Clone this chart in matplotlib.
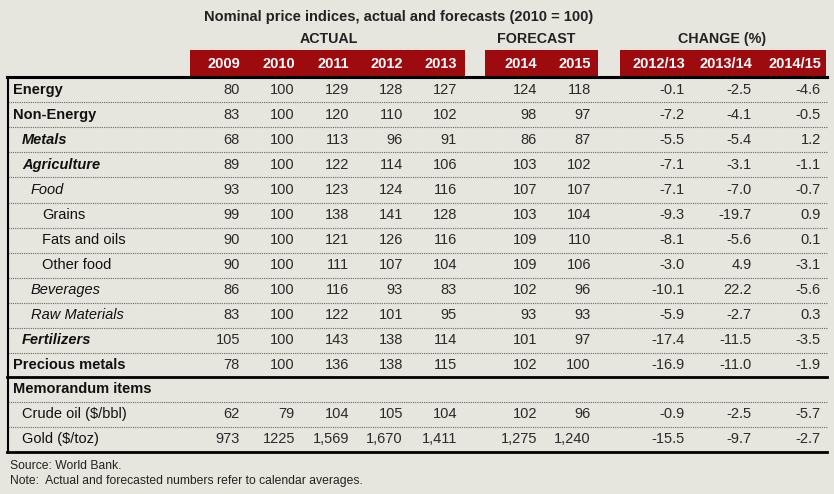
import matplotlib
matplotlib.use("Agg")
import matplotlib.pyplot as plt

plt.rcParams['font.family'] = ['Liberation Sans', 'DejaVu Sans']

# table data
title = "Nominal price indices, actual and forecasts (2010 = 100)"
groups = ["ACTUAL", "FORECAST", "CHANGE (%)"]
columns = ["2009", "2010", "2011", "2012", "2013", "2014", "2015",
           "2012/13", "2013/14", "2014/15"]

labels = ["Energy", "Non-Energy", "Metals", "Agriculture", "Food", "Grains",
          "Fats and oils", "Other food", "Beverages", "Raw Materials",
          "Fertilizers", "Precious metals", "Memorandum items",
          "Crude oil ($/bbl)", "Gold ($/toz)"]

y2009 = ["80", "83", "68", "89", "93", "99", "90", "90", "86", "83", "105", "78", "", "62", "973"]
y2010 = ["100", "100", "100", "100", "100", "100", "100", "100", "100", "100", "100", "100", "", "79", "1225"]
y2011 = ["129", "120", "113", "122", "123", "138", "121", "111", "116", "122", "143", "136", "", "104", "1,569"]
y2012 = ["128", "110", "96", "114", "124", "141", "126", "107", "93", "101", "138", "138", "", "105", "1,670"]
y2013 = ["127", "102", "91", "106", "116", "128", "116", "104", "83", "95", "114", "115", "", "104", "1,411"]
y2014 = ["124", "98", "86", "103", "107", "103", "109", "109", "102", "93", "101", "102", "", "102", "1,275"]
y2015 = ["118", "97", "87", "102", "107", "104", "110", "106", "96", "93", "97", "100", "", "96", "1,240"]
ch1213 = ["-0.1", "-7.2", "-5.5", "-7.1", "-7.1", "-9.3", "-8.1", "-3.0", "-10.1", "-5.9", "-17.4", "-16.9", "", "-0.9", "-15.5"]
ch1314 = ["-2.5", "-4.1", "-5.4", "-3.1", "-7.0", "-19.7", "-5.6", "4.9", "22.2", "-2.7", "-11.5", "-11.0", "", "-2.5", "-9.7"]
ch1415 = ["-4.6", "-0.5", "1.2", "-1.1", "-0.7", "0.9", "0.1", "-3.1", "-5.6", "0.3", "-3.5", "-1.9", "", "-5.7", "-2.7"]

source = "Source: World Bank."
note = "Note:  Actual and forecasted numbers refer to calendar averages."

# layout (pixels)
label_x = [13, 13, 22, 22, 31, 42, 42, 42, 31, 31, 22, 13, 13, 22, 22]
label_style = ["b", "b", "bi", "bi", "i", "n", "n", "n", "i", "i", "bi", "b", "b", "n", "n"]
col_right = [240, 295, 349, 403, 457, 537, 591, 685, 752, 821]
bands = [(190, 465), (485, 598), (620, 826)]
group_x = [329, 536, 722]

bg = "#e6e6df"
red = "#9e0b0f"
fs = 10.5

fig = plt.figure(figsize=(8.34, 4.94), dpi=100, facecolor=bg)
ax = fig.add_axes([0, 0, 1, 1])
ax.set_xlim(0, 834)
ax.set_ylim(494, 0)
ax.axis("off")
ax.set_facecolor(bg)

ax.text(399, 17, title, ha="center", va="center", fontsize=10.5,
        fontweight="bold", color="#222222")
for gx, g in zip(group_x, groups):
    ax.text(gx, 39, g, ha="center", va="center", fontsize=10.3,
            fontweight="bold", color="#222222")

for x0, x1 in bands:
    ax.add_patch(plt.Rectangle((x0, 50), x1 - x0, 26, color=red, lw=0))
for xr, c in zip(col_right, columns):
    ax.text(xr, 64, c, ha="right", va="center", fontsize=fs,
            fontweight="bold", color="white")

values = [y2009, y2010, y2011, y2012, y2013, y2014, y2015, ch1213, ch1314, ch1415]
row_y = [90 + 25 * i for i in range(12)] + [389, 414, 439]

for i, lab in enumerate(labels):
    st = label_style[i]
    ax.text(label_x[i], row_y[i], lab, ha="left", va="center", fontsize=fs,
            fontweight="bold" if "b" in st else "normal",
            fontstyle="italic" if "i" in st else "normal",
            color="#111111")
    for xr, col in zip(col_right, values):
        ax.text(xr, row_y[i], col[i], ha="right", va="center",
                fontsize=fs, color="#2a2a2a")

# separators
for i in range(len(labels) - 1):
    if i == 11:
        continue
    yy = (row_y[i] + row_y[i + 1]) / 2
    ax.plot([8, 827], [yy, yy], color="#666666", lw=0.8, ls=(0, (1, 1)))

ax.plot([7, 827], [77, 77], color="black", lw=2.2)
ax.plot([7, 827], [377, 377], color="black", lw=2.0)
ax.plot([7, 827], [452, 452], color="black", lw=2.0)
ax.plot([8, 8], [77, 452], color="black", lw=1.5)

ax.text(10, 466, source, ha="left", va="center", fontsize=8.7, color="#222222")
ax.text(10, 481, note, ha="left", va="center", fontsize=8.7, color="#222222")

plt.savefig("out.png", dpi=100, facecolor=bg)
